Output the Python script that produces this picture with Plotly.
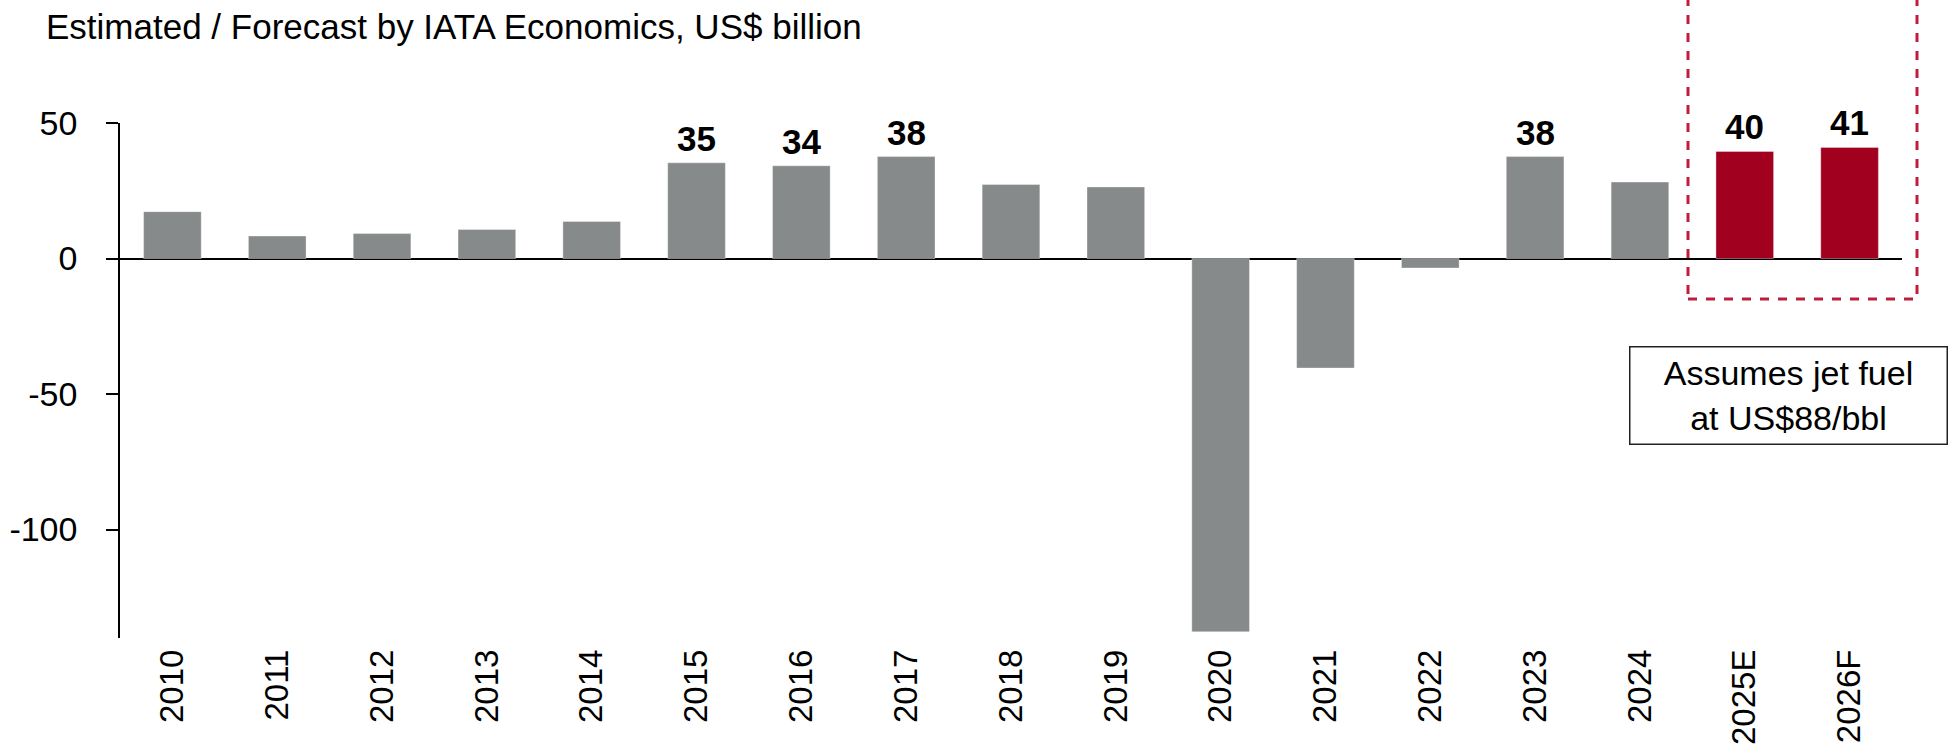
import plotly.graph_objects as go

# Industry net profit, US$ billion
years = ["2010", "2011", "2012", "2013", "2014", "2015", "2016", "2017", "2018",
         "2019", "2020", "2021", "2022", "2023", "2024", "2025E", "2026F"]
net_profit = [17.3, 8.3, 9.2, 10.7, 13.7, 35.3, 34.2, 37.6, 27.3,
              26.4, -137.7, -40.4, -3.5, 37.6, 28.2, 39.5, 41.0]
forecast_years = ["2025E", "2026F"]
labelled_years = ["2015", "2016", "2017", "2023", "2025E", "2026F"]

title_text = "Estimated / Forecast by IATA Economics, US$ billion"
note_text = "Assumes jet fuel<br>at US$88/bbl"
y_ticks = [-100, -50, 0, 50]
y_tick_text = [str(v) for v in y_ticks]

GREY = "#878A8A"
RED = "#A1001F"
DASH_RED = "#BE1E3C"
FONT = "Liberation Sans, Arial, sans-serif"

W, H = 1956, 755
M_L, M_R, M_T, M_B = 120, 54, 123, 117
plot_w = W - M_L - M_R
plot_h = H - M_T - M_B


def px_to_paper_x(px):
    return (px - M_L) / plot_w


def px_to_paper_y(py):
    return (H - M_B - py) / plot_h


bar_colors = [RED if y in forecast_years else GREY for y in years]

fig = go.Figure()
fig.add_trace(go.Bar(
    x=years,
    y=net_profit,
    marker=dict(color=bar_colors, line=dict(color="rgba(255,255,255,0.35)", width=1)),
    hoverinfo="x+y",
))

# value labels above the highlighted bars (category index keeps numeric-looking names on their bar)
for idx, (yr, v) in enumerate(zip(years, net_profit)):
    if yr in labelled_years:
        fig.add_annotation(
            x=idx, y=v, xref="x", yref="y",
            text=f"<b>{v:.0f}</b>",
            showarrow=False, yanchor="bottom", yshift=3,
            font=dict(family=FONT, size=35, color="#000000"),
        )

# dashed frame around the forecast years
fig.add_shape(
    type="rect", xref="paper", yref="paper",
    x0=px_to_paper_x(1688), x1=px_to_paper_x(1917),
    y0=px_to_paper_y(299), y1=px_to_paper_y(-10),
    line=dict(color=DASH_RED, width=3, dash="dash"),
    fillcolor="rgba(0,0,0,0)",
)

# fuel price assumption note
fig.add_annotation(
    xref="paper", yref="paper",
    x=px_to_paper_x(1788.5), y=px_to_paper_y(395.7),
    xanchor="center", yanchor="middle",
    text=note_text, showarrow=False,
    width=316, height=96, align="center", valign="middle",
    bordercolor="#222222", borderwidth=1.5, borderpad=0,
    bgcolor="#FFFFFF",
    font=dict(family=FONT, size=34, color="#000000"),
)

fig.update_layout(
    width=W, height=H,
    margin=dict(l=M_L, r=M_R, t=M_T, b=M_B, pad=0, autoexpand=False),
    paper_bgcolor="#FFFFFF", plot_bgcolor="#FFFFFF",
    showlegend=False,
    bargap=0.45,
    font=dict(family=FONT, color="#000000"),
    title=dict(
        text=title_text, x=46 / W, xanchor="left", xref="container",
        y=1 - 27 / H, yanchor="middle", yref="container",
        font=dict(family=FONT, size=35, color="#000000"),
    ),
    xaxis=dict(
        type="category", range=[-0.5, len(years) - 0.5], automargin=False,
        showline=False, showgrid=False, zeroline=False,
        ticks="", tickangle=-90, ticklabelstandoff=4,
        tickfont=dict(family=FONT, size=33, color="#000000"),
    ),
    yaxis=dict(
        range=[-140, 50], tickvals=y_ticks, ticktext=y_tick_text, automargin=False,
        showgrid=False, showline=True, linecolor="#000000", linewidth=1.5,
        ticks="outside", ticklen=12, tickwidth=1.5, tickcolor="#000000",
        zeroline=True, zerolinecolor="#000000", zerolinewidth=2,
        ticklabelstandoff=22,
        tickfont=dict(family=FONT, size=34, color="#000000"),
    ),
)

fig.write_html("out.html")
